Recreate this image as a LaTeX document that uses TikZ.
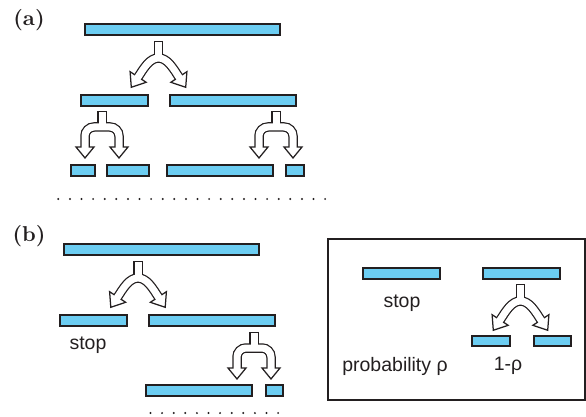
\documentclass[tikz,border=0pt]{standalone}
\usepackage{fontspec}
\setsansfont{Liberation Sans}
\definecolor{barblue}{RGB}{108,205,242}
\definecolor{ink}{RGB}{35,31,32}
\tikzset{
  barnode/.style={draw=ink, line width=1.8pt, fill=barblue, inner sep=0pt, outer sep=0pt, minimum height=11.2pt},
  lbl/.style={font=\fontsize{10}{12}\selectfont\bfseries, text=ink, inner sep=0pt, scale=2.15},
  txt/.style={font=\sffamily\fontsize{19.5}{23}\selectfont, text=ink, inner sep=0pt},
  outerstroke/.style={draw=ink, line width=9.5pt},
  innerstroke/.style={draw=white, line width=7pt},
  headshape/.style={draw=ink, fill=white, line width=1.25pt, line join=miter},
  forkA/.pic={
    \draw[outerstroke] (0,-1.2) -- (0,16);
    \draw[outerstroke] (-20.4,35) .. controls (-14.9,26.7) and (-9,16) .. (0,16) .. controls (9,16) and (14.9,26.7) .. (20.4,35);
    \filldraw[headshape] (28.4,29.7) -- (27.2,45.3) -- (12.4,40.3) -- cycle;
    \filldraw[headshape] (-28.4,29.7) -- (-27.2,45.3) -- (-12.4,40.3) -- cycle;
    \draw[innerstroke] (0,0) -- (0,16);
    \draw[innerstroke] (-21.3,36.3) -- (-20.4,35) .. controls (-14.9,26.7) and (-9,16) .. (0,16) .. controls (9,16) and (14.9,26.7) .. (20.4,35) -- (21.3,36.3);
  },
  forkB/.pic={
    \draw[outerstroke] (0,-1.2) -- (0,15);
    \draw[outerstroke, rounded corners=9pt] (-17,35) -- (-17,15) -- (17,15) -- (17,35);
    \filldraw[headshape] (-26,35) -- (-17,46) -- (-8,35) -- cycle;
    \filldraw[headshape] (26,35) -- (17,46) -- (8,35) -- cycle;
    \draw[innerstroke] (0,0) -- (0,15);
    \draw[innerstroke, rounded corners=9pt] (-17,36.5) -- (-17,15) -- (17,15) -- (17,36.5);
  }
}
\begin{document}
\begin{tikzpicture}[x=1pt,y=-1pt]
\useasboundingbox (0,0) rectangle (586,417);
% (a)
\node[lbl] (la) at (29,20) {(a)};
\node[barnode, minimum width=195.2pt] (a1) at (182.5,29.5) {};
\node[barnode, minimum width=67.2pt] (a21) at (114.5,100.5) {};
\node[barnode, minimum width=126.2pt] (a22) at (233,100.5) {};
\node[barnode, minimum width=24.2pt] (a31) at (83,170.5) {};
\node[barnode, minimum width=42.2pt] (a32) at (128,170.5) {};
\node[barnode, minimum width=106.2pt] (a33) at (220,170.5) {};
\node[barnode, minimum width=18.2pt] (a34) at (295,170.5) {};
\pic at (158.5,42) {forkA};
\pic at (102,112) {forkB};
\pic at (276,112) {forkB};
\foreach \i in {0,...,23} \fill[ink] (58.3+\i*11.6,199) circle (1.1);
% (b)
\node[lbl] (lb) at (29,236) {(b)};
\node[barnode, minimum width=195.2pt] (b1) at (161.5,249.5) {};
\node[barnode, minimum width=67.2pt] (b21) at (93.5,320.5) {};
\node[barnode, minimum width=126.2pt] (b22) at (212,320.5) {};
\node[barnode, minimum width=106.2pt] (b31) at (199,390.5) {};
\node[barnode, minimum width=17.2pt] (b32) at (274.5,390.5) {};
\pic at (138,262) {forkA};
\pic at (254,333) {forkB};
\node[txt] (stopb) at (88,345) {stop};
\foreach \i in {0,...,11} \fill[ink] (150.5+\i*11.6,413) circle (1.1);
% legend box
\draw[ink, line width=1.3pt] (328,239) rectangle (585,400);
\node[barnode, minimum width=77.2pt] (k1) at (401.5,273.5) {};
\node[barnode, minimum width=77.2pt] (k2) at (521.5,273.5) {};
\node[barnode, minimum width=38.2pt, minimum height=10.2pt] (k3) at (491,341) {};
\node[barnode, minimum width=37.2pt, minimum height=10.2pt] (k4) at (552.5,341) {};
\pic at (520.5,285) {forkA};
\node[txt] (stopk) at (402,303.5) {stop};
\node[txt] (prob) at (395,366) {probability ρ};
\node[txt] (oneminus) at (508,366) {1-ρ};
\end{tikzpicture}
\end{document}
